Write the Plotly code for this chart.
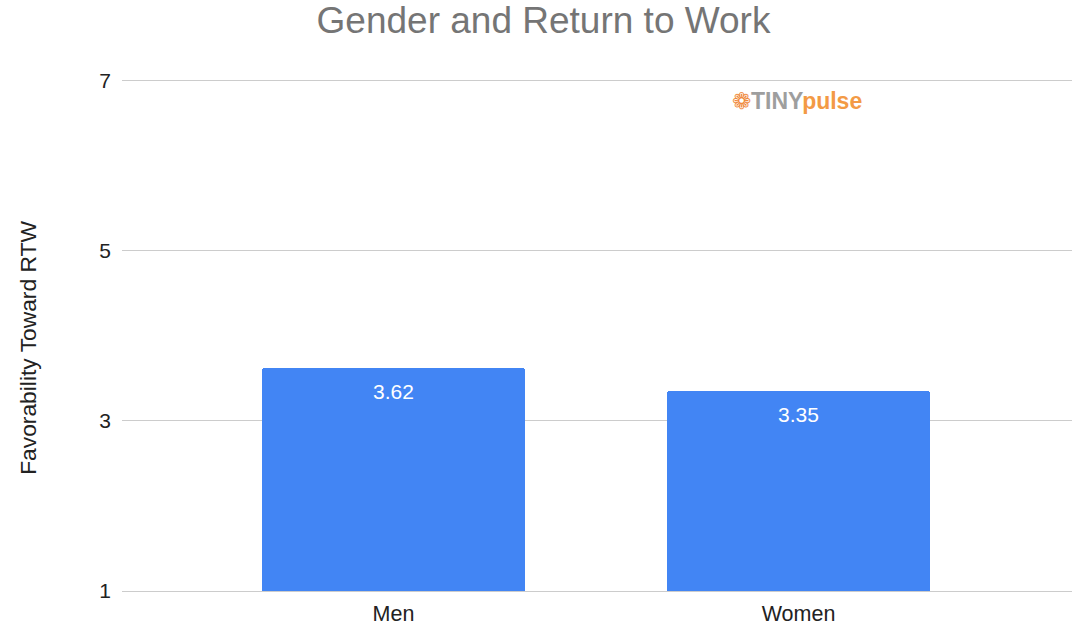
import plotly.graph_objects as go

categories = ["Men", "Women"]
values = [3.62, 3.35]
tick_vals = [1, 3, 5, 7]

FONT = "Liberation Sans, Arial, sans-serif"
BAR = "#4285f4"
TEXT = "#222222"
GRID = "#cccccc"

fig = go.Figure()
fig.add_trace(go.Bar(
    x=categories, y=values, marker=dict(color=BAR, cornerradius=3, line=dict(width=0)),
    width=0.65, hoverinfo="skip", showlegend=False,
))

for c, v in zip(categories, values):
    fig.add_annotation(x=c, y=v, text=f"{v:.2f}", showarrow=False, yshift=-23,
                       yanchor="middle",
                       font=dict(family=FONT, size=21, color="white"))

# y-axis title
fig.add_annotation(xref="paper", yref="paper", x=0, y=0.474, xshift=-94,
                   xanchor="center", yanchor="middle", textangle=-90, showarrow=False,
                   text="Favorability Toward RTW",
                   font=dict(family=FONT, size=22.8, color=TEXT))

fig.add_annotation(
    xref="paper", yref="paper", x=0.7105, y=0.955, xanchor="center", yanchor="middle",
    text="<span style='color:#f08a3c'>❁</span><span style='color:#9e9e9e'><b>TINY</b></span><span style='color:#f39a45'><b>pulse</b></span>",
    showarrow=False, font=dict(family=FONT, size=23),
)

fig.update_layout(
    width=1072, height=627,
    margin=dict(l=122, r=0, t=78, b=36, autoexpand=False),
    paper_bgcolor="white", plot_bgcolor="white",
    title=dict(text="Gender and Return to Work", x=0.507, xanchor="center", y=0.968, yanchor="middle",
               font=dict(family=FONT, size=37, color="#757575")),
    xaxis=dict(range=[-0.67, 1.675], showgrid=False, zeroline=False, automargin=False,
               showline=True, linecolor=GRID, linewidth=1,
               tickfont=dict(family=FONT, size=21.5, color=TEXT), ticks="", ticklabelstandoff=3),
    yaxis=dict(range=[1, 7.03], tickvals=tick_vals, showgrid=True, gridcolor=GRID, gridwidth=1,
               zeroline=False, showline=False, ticks="", ticklabelstandoff=10, automargin=False,
               tickfont=dict(family=FONT, size=21, color=TEXT)),
    bargap=0,
)

fig.write_html("out.html", config={"displayModeBar": False},
               post_script="document.body.style.margin='0';document.body.style.padding='0';")
